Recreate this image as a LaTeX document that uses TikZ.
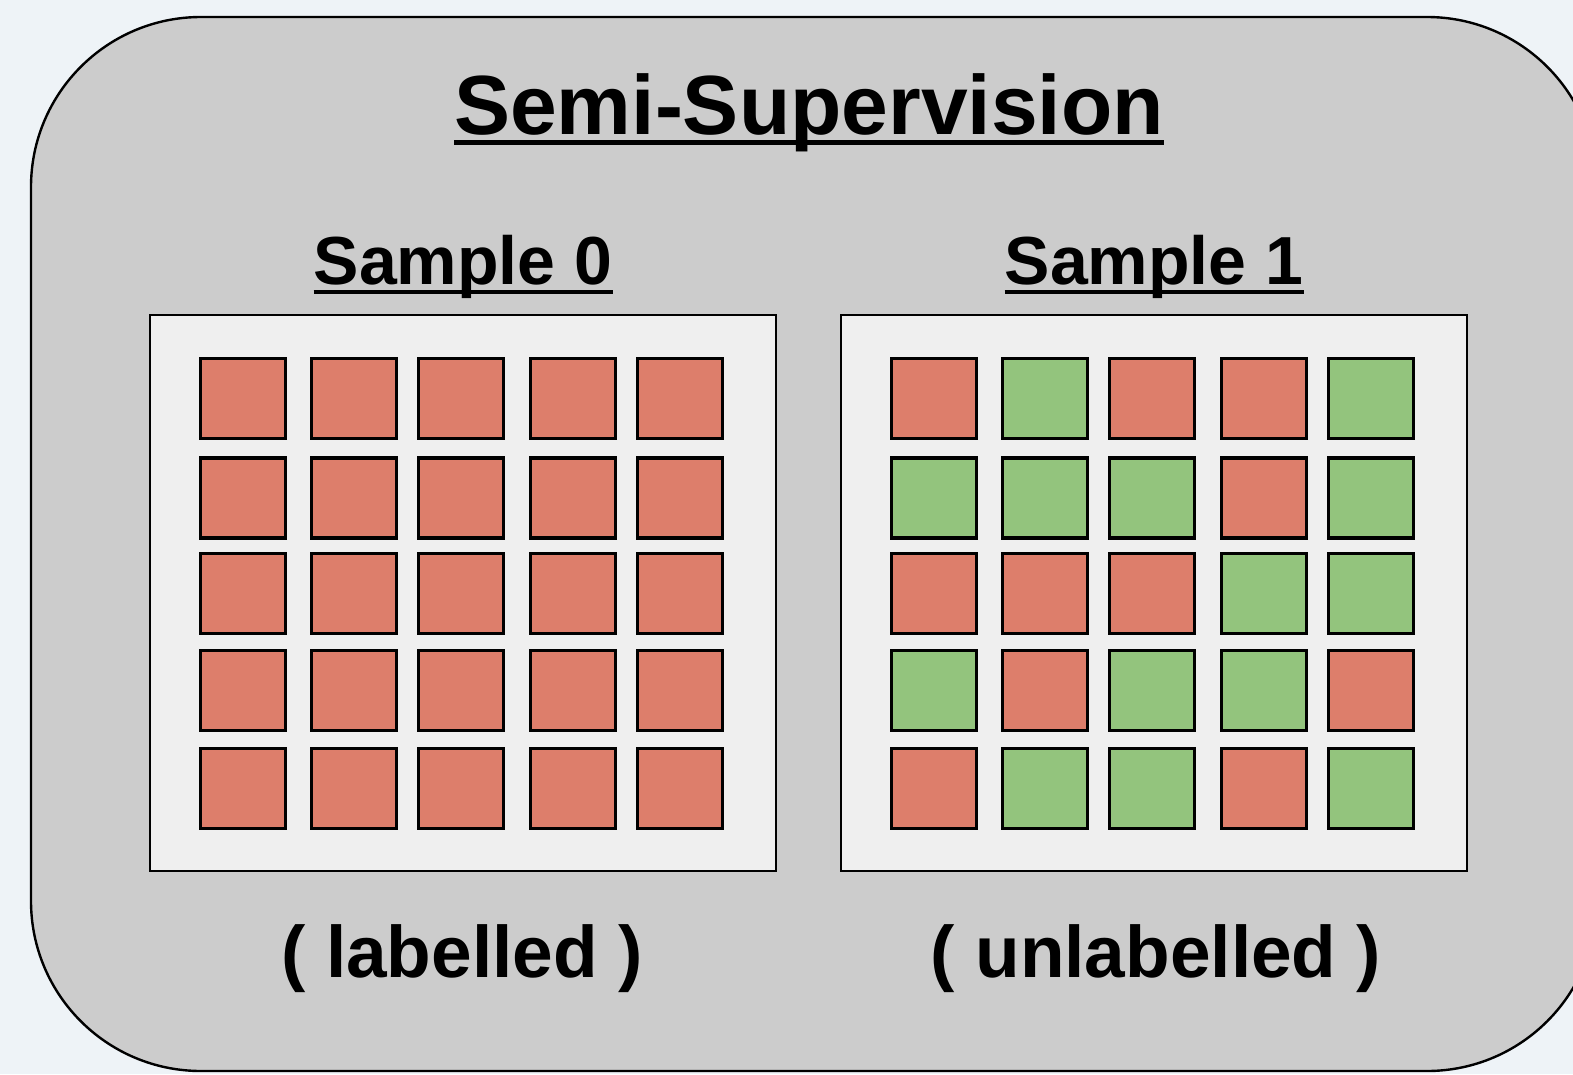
\documentclass[tikz,border=0pt]{standalone}
\usepackage{fontspec}
\setmainfont{Liberation Sans}
\definecolor{bgc}{RGB}{238,243,247}
\definecolor{outerc}{RGB}{204,204,204}
\definecolor{innerc}{RGB}{239,239,239}
\definecolor{redc}{RGB}{221,126,107}
\definecolor{greenc}{RGB}{147,196,125}
\begin{document}
\begin{tikzpicture}[x=1pt,y=-1pt,
  outerbox/.style={draw=black, fill=outerc, line width=2.4pt, rounded corners=170pt},
  samplebox/.style={draw=black, fill=innerc, line width=2.6pt, rectangle, inner sep=0pt, minimum width=626pt, minimum height=556pt},
  cell/.style={draw=black, line width=3.4pt, rectangle, inner sep=0pt, minimum width=85pt, minimum height=80pt},
  rc/.style={cell, fill=redc},
  gc/.style={cell, fill=greenc},
  titletext/.style={anchor=base, inner sep=0pt, font=\fontsize{84}{90}\selectfont\bfseries},
  headtext/.style={anchor=base, inner sep=0pt, font=\fontsize{68}{74}\selectfont\bfseries},
  notetext/.style={anchor=base, inner sep=0pt, font=\fontsize{73}{80}\selectfont\bfseries},
  uline/.style={line width=5pt, line cap=butt}
]
\useasboundingbox (0,0) rectangle (1573,1074);
\clip (0,0) rectangle (1573,1074);
\fill[bgc] (0,0) rectangle (1573,1074);
\draw[outerbox] (31,17) rectangle (1597,1071);

\node[titletext] (title) at (809,134) {Semi-Supervision};
\draw[uline] ([yshift=-8pt]title.base west) -- ([yshift=-8pt]title.base east);

\node[samplebox] (box0) at (463,593) {};
\node[samplebox] (box1) at (1154,593) {};

\node[headtext] (s0) at (463,284) {Sample 0};
\draw[uline, line width=4.5pt] ([yshift=-8pt]s0.base west) -- ([yshift=-8pt]s0.base east);
\node[headtext] (s1) at (1154,284) {Sample 1};
\draw[uline, line width=4.5pt] ([yshift=-8pt]s1.base west) -- ([yshift=-8pt]s1.base east);

\node[notetext] (n0) at (462,977) {( labelled )};
\node[notetext] (n1) at (1156,977) {( unlabelled )};

% left grid: all red
\foreach \r/\cy in {1/398.5,2/498,3/593.5,4/690.5,5/788.5} {
  \foreach \c/\cx in {1/243,2/354,3/461,4/573,5/680} {
    \node[rc] (L-\r-\c) at (\cx,\cy) {};
  }
}
% right grid
\foreach \r/\cy/\pat in {1/398.5/{r,g,r,r,g},2/498/{g,g,g,r,g},3/593.5/{r,r,r,g,g},4/690.5/{g,r,g,g,r},5/788.5/{r,g,g,r,g}} {
  \foreach \k [count=\c] in \pat {
    \pgfmathsetmacro{\cx}{{243,354,461,573,680}[\c-1]+691}
    \node[\k c] (R-\r-\c) at (\cx,\cy) {};
  }
}
\end{tikzpicture}
\end{document}
